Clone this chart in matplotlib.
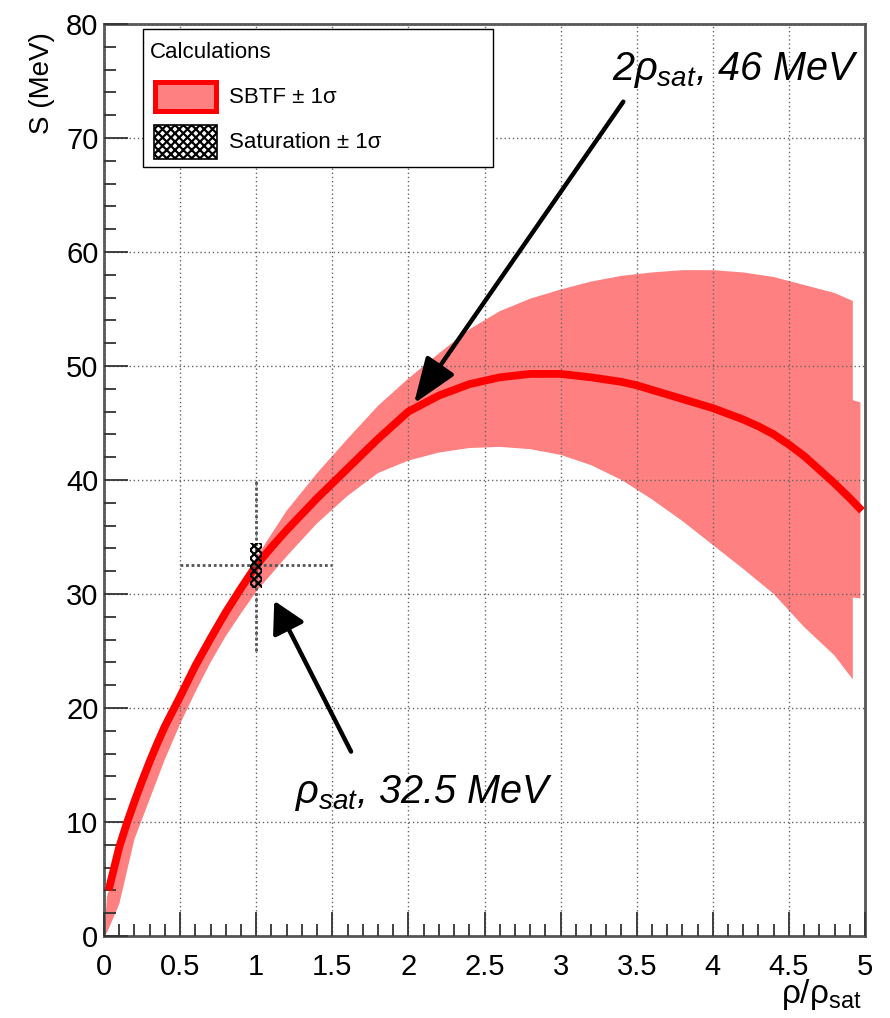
import matplotlib
matplotlib.use("Agg")
import matplotlib.pyplot as plt
from matplotlib.patches import Rectangle
from matplotlib.ticker import MultipleLocator

plt.rcParams["font.family"] = ["Liberation Sans", "DejaVu Sans"]
plt.rcParams["mathtext.fontset"] = "custom"
plt.rcParams["mathtext.rm"] = "Liberation Sans"
plt.rcParams["mathtext.it"] = "Liberation Sans:italic"
plt.rcParams["mathtext.sf"] = "Liberation Sans"
plt.rcParams["hatch.linewidth"] = 1.6

# SBTF central symmetry-energy curve S(rho/rho_sat)
sbtf_rho = [0.03, 0.05, 0.1, 0.15, 0.2, 0.25, 0.3, 0.35, 0.4, 0.5, 0.6, 0.7, 0.8, 0.9,
            1.0, 1.1, 1.2, 1.3, 1.4, 1.5, 1.6, 1.7, 1.8, 1.9, 2.0, 2.2, 2.4, 2.6, 2.8,
            3.0, 3.2, 3.4, 3.5, 3.6, 3.7, 3.8, 3.9, 4.0, 4.1, 4.2, 4.3, 4.4, 4.5, 4.6,
            4.7, 4.8, 4.9, 4.98]
sbtf_S = [4.0, 5.1, 7.8, 9.9, 11.8, 13.6, 15.3, 16.9, 18.4, 21.0, 23.7, 26.1, 28.4, 30.5,
          32.5, 34.1, 35.6, 37.0, 38.4, 39.7, 41.0, 42.3, 43.6, 44.8, 46.0, 47.4, 48.4,
          49.0, 49.3, 49.3, 49.0, 48.6, 48.3, 47.9, 47.5, 47.1, 46.7, 46.3, 45.8, 45.3,
          44.7, 44.0, 43.1, 42.1, 40.9, 39.7, 38.4, 37.3]

# SBTF +/- 1 sigma band
band_rho = [0.0, 0.02, 0.1, 0.2, 0.3, 0.4, 0.5, 0.6, 0.7, 0.8, 0.9, 1.0, 1.2, 1.4, 1.6,
            1.8, 2.0, 2.2, 2.4, 2.6, 2.8, 3.0, 3.2, 3.4, 3.6, 3.8, 4.0, 4.2, 4.4, 4.6,
            4.8, 4.92, 4.92, 4.97]
band_hi = [0.0, 3.5, 7.0, 11.3, 14.8, 18.0, 20.7, 23.4, 26.0, 28.5, 30.9, 33.2, 37.3, 40.6,
           43.6, 46.5, 48.9, 51.1, 53.2, 54.8, 55.9, 56.7, 57.4, 57.9, 58.2, 58.4, 58.4,
           58.2, 57.8, 57.1, 56.4, 55.7, 47.0, 46.8]
band_lo = [0.0, 0.3, 2.8, 8.5, 12.0, 15.5, 18.6, 21.4, 24.0, 26.3, 28.3, 30.2, 33.3, 36.2,
           38.6, 40.6, 41.7, 42.4, 42.8, 42.9, 42.7, 42.2, 41.3, 40.0, 38.3, 36.4, 34.3,
           32.2, 30.0, 27.1, 24.6, 22.5, 29.7, 29.6]

# Saturation point with its 1 sigma box and wider error bars
sat_rho = 1.0
sat_S = 32.5
sat_box_drho = 0.04
sat_box_dS = 2.0
sat_err_rho = 0.5
sat_err_S = 7.5

# Annotated points and their labels
ann_rho = [2.0, 1.0]
ann_S = [46.0, 32.5]
ann_text = [r"2$\rho_{sat}$, 46 MeV", r"$\rho_{sat}$, 32.5 MeV"]

legend_title = "Calculations"
legend_labels = ["SBTF \u00b1 1\u03c3", "Saturation \u00b1 1\u03c3"]

band_color = "#ff8080"
line_color = "#ff0000"
axis_gray = "#555555"

W, H = 890, 1018
fig = plt.figure(figsize=(W / 100, H / 100), dpi=100)
ax = fig.add_axes([0.1169, 0.0806, 0.855, 0.8959])

ax.fill_between(band_rho, band_lo, band_hi, facecolor=band_color, edgecolor="none",
                linewidth=0, zorder=1)
ax.plot(sbtf_rho, sbtf_S, color=line_color, lw=5.6, solid_capstyle="butt",
        solid_joinstyle="round", zorder=3)

# saturation error bars (dotted) and hatched 1 sigma box
ax.plot([sat_rho - sat_err_rho, sat_rho + sat_err_rho], [sat_S, sat_S],
        color="#555555", lw=2.0, ls=(0, (1, 1)), zorder=3.5)
ax.plot([sat_rho, sat_rho], [sat_S - sat_err_S, sat_S + sat_err_S],
        color="#555555", lw=2.0, ls=(0, (1, 1)), zorder=3.5)
ax.add_patch(Rectangle((sat_rho - sat_box_drho, sat_S - sat_box_dS),
                       2 * sat_box_drho, 2 * sat_box_dS, facecolor="none",
                       edgecolor="black", hatch="xxxx", linewidth=0, zorder=4))

# arrows pointing at the annotated values
arrow_tails = [(3.412, 73.18), (1.623, 16.17)]
arrow_shrink = [7.0, 28.6]
arrow_heads = ["-|>,head_length=28,head_width=10.5", "-|>,head_length=19,head_width=10.5"]
for r, s, tail, shr, st in zip(ann_rho, ann_S, arrow_tails, arrow_shrink, arrow_heads):
    ax.annotate("", xy=(r, s), xytext=tail, xycoords="data", textcoords="data",
                arrowprops=dict(arrowstyle=st, color="black", lw=3.2, shrinkA=0,
                                shrinkB=shr, mutation_scale=1),
                zorder=5)

text_pos = [(3.336, 75.1), (1.255, 11.64)]
for (tx, ty), t in zip(text_pos, ann_text):
    ax.text(tx, ty, t, fontsize=28.5, fontstyle="italic", ha="left", va="baseline",
            zorder=6)

ax.set_xlim(0, 5)
ax.set_ylim(0, 80)
ax.xaxis.set_major_locator(MultipleLocator(0.5))
ax.xaxis.set_minor_locator(MultipleLocator(0.1))
ax.yaxis.set_major_locator(MultipleLocator(10))
ax.yaxis.set_minor_locator(MultipleLocator(2))
ax.set_xticks([0, 0.5, 1, 1.5, 2, 2.5, 3, 3.5, 4, 4.5, 5])
ax.set_xticklabels(["0", "0.5", "1", "1.5", "2", "2.5", "3", "3.5", "4", "4.5", "5"])

ax.set_axisbelow(False)
ax.grid(True, which="major", color="#666666", lw=1.0, ls=(0, (1, 2)))

ax.tick_params(axis="both", which="both", direction="in", colors="#333333",
               labelcolor="black", width=1.3)
ax.tick_params(axis="x", which="major", length=17, pad=12, labelsize=21)
ax.tick_params(axis="x", which="minor", length=8.6)
ax.tick_params(axis="y", which="major", length=17, pad=4, labelsize=21)
ax.tick_params(axis="y", which="minor", length=8.6)
for sp in ax.spines.values():
    sp.set_color(axis_gray)
    sp.set_linewidth(2.0)

ax.set_ylabel("S (MeV)", fontsize=20, loc="top")
ax.yaxis.set_label_coords(-0.064, 0.991)
ax.set_xlabel(r"$\mathrm{\rho/\rho_{sat}}$", fontsize=24, loc="right")
ax.xaxis.set_label_coords(0.996, -0.045)

# legend box, laid out in figure pixels (origin top-left)
def fx(px):
    return px / W


def fy(py):
    return 1 - py / H


fig.patches.append(Rectangle((fx(143), fy(167)), fx(493) - fx(143), fy(29) - fy(167),
                             transform=fig.transFigure, facecolor="white",
                             edgecolor="black", linewidth=1.0, zorder=7))
fig.text(fx(150), fy(52), legend_title, fontsize=16, ha="left", va="center", zorder=8)
fig.patches.append(Rectangle((fx(154.5), fy(111)), fx(216) - fx(154.5), fy(82) - fy(111),
                             transform=fig.transFigure, facecolor=band_color,
                             edgecolor=line_color, linewidth=3.6, zorder=8))
fig.patches.append(Rectangle((fx(153.5), fy(158.5)), fx(216.5) - fx(153.5),
                             fy(125.5) - fy(158.5), transform=fig.transFigure,
                             facecolor="white", edgecolor="black", hatch="xxxx",
                             linewidth=1.2, zorder=8))
fig.text(fx(229), fy(97), legend_labels[0], fontsize=16, ha="left", va="center", zorder=8)
fig.text(fx(229), fy(142), legend_labels[1], fontsize=16, ha="left", va="center", zorder=8)

fig.savefig("out.png", dpi=100)
